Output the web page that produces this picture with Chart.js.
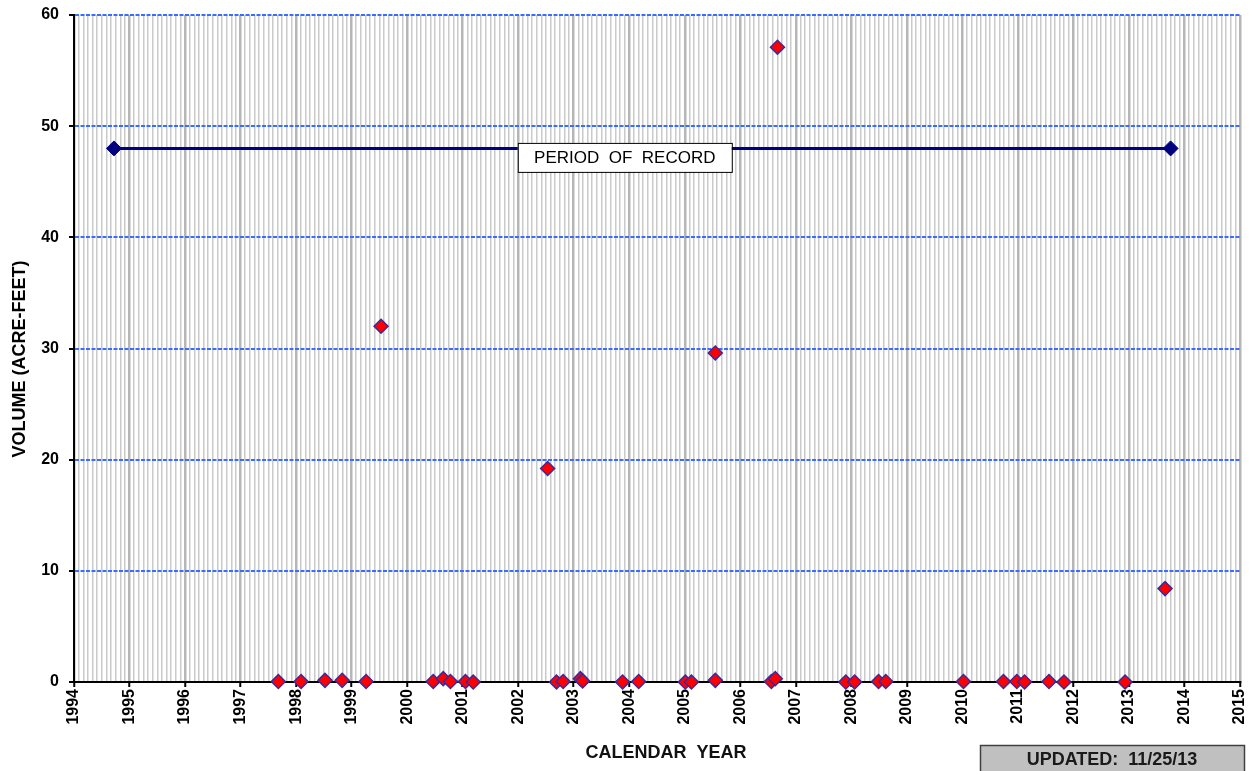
<!DOCTYPE html>
<html>
<head>
<meta charset="utf-8">
<script src="https://cdn.jsdelivr.net/npm/chart.js@4.4.1/dist/chart.umd.min.js"></script>
<style>
  html, body { margin: 0; padding: 0; background: #fff; }
  #wrap { width: 1255px; height: 771px; }
</style>
</head>
<body>
<div id="wrap"><canvas id="volChart"></canvas></div>
<script>
// sample dates (decimal years) and measured volumes
const sampleYears = [1997.68, 1998.09, 1998.52, 1998.83, 1999.26, 1999.53, 2000.47, 2000.65,
  2000.78, 2001.05, 2001.19, 2002.53, 2002.69, 2002.81, 2003.12, 2003.16, 2003.88, 2004.17,
  2005.01, 2005.12, 2005.55, 2005.55, 2006.56, 2006.63, 2006.67, 2007.90, 2008.06, 2008.49,
  2008.62, 2010.02, 2010.74, 2010.98, 2011.12, 2011.56, 2011.83, 2012.93, 2013.65];
const volumes = [0.05, 0.05, 0.15, 0.15, 0.05, 32.0, 0.05, 0.3, 0.05, 0.05, 0.0, 19.2,
  0.0, 0.05, 0.3, 0.1, 0.0, 0.05, 0.0, 0.0, 29.6, 0.15, 0.05, 0.3, 57.1, 0.0, 0.0, 0.05,
  0.05, 0.05, 0.05, 0.05, 0.0, 0.05, 0.0, 0.0, 8.4];

const recordYears = [1994.72, 2013.75];
const recordVolumes = [48, 48];

const yearLabels = ["1994", "1995", "1996", "1997", "1998", "1999", "2000", "2001", "2002",
  "2003", "2004", "2005", "2006", "2007", "2008", "2009", "2010", "2011", "2012", "2013",
  "2014", "2015"];
const volumeTicks = [0, 10, 20, 30, 40, 50, 60];

const FONT = "'Liberation Sans', Arial, sans-serif";
const isYear = (v) => Math.abs(v - Math.round(v)) < 1e-6;

const boxes = {
  id: "boxes",
  afterDraw(chart) {
    const ctx = chart.ctx;
    const xs = chart.scales.x, ys = chart.scales.y;

    // period of record label
    const cx = xs.getPixelForValue(2003.92);
    const cy = ys.getPixelForValue(48) + 9;
    ctx.save();
    ctx.fillStyle = "#fff";
    ctx.strokeStyle = "#000";
    ctx.lineWidth = 1;
    ctx.fillRect(cx - 107, cy - 14.5, 214, 29);
    ctx.strokeRect(cx - 107 + 0.5, cy - 14.5 + 0.5, 214, 29);
    ctx.fillStyle = "#000";
    ctx.font = "17px " + FONT;
    ctx.textAlign = "center";
    ctx.textBaseline = "middle";
    ctx.fillText("PERIOD  OF  RECORD", cx, cy + 1);

    // axis titles, both sit a little off centre in the original
    ctx.fillStyle = "#111";
    ctx.font = "bold 18px " + FONT;
    ctx.fillText("CALENDAR  YEAR", 666, 753);
    ctx.save();
    ctx.translate(20, 359);
    ctx.rotate(-Math.PI / 2);
    ctx.fillStyle = "#000";
    ctx.fillText("VOLUME (ACRE-FEET)", 0, 0);
    ctx.restore();

    // updated stamp
    ctx.fillStyle = "#c0c0c0";
    ctx.fillRect(980, 745, 265, 30);
    ctx.strokeStyle = "#404040";
    ctx.lineWidth = 1.5;
    ctx.strokeRect(980.5, 745.5, 264, 30);
    ctx.fillStyle = "#1a1a1a";
    ctx.fillText("UPDATED:  11/25/13", 1112, 760);
    ctx.restore();
  }
};

new Chart(document.getElementById("volChart"), {
  type: "scatter",
  data: {
    datasets: [
      {
        label: "Period of record",
        data: recordYears.map((x, i) => ({ x, y: recordVolumes[i] })),
        showLine: true,
        borderColor: "#000080",
        borderWidth: 3,
        backgroundColor: "#000080",
        pointStyle: "rectRot",
        pointRadius: 7.5,
        pointBorderWidth: 1,
      },
      {
        label: "Volume",
        data: sampleYears.map((x, i) => ({ x, y: volumes[i] })),
        backgroundColor: "#ff0000",
        borderColor: "#3a2aa0",
        borderWidth: 1.5,
        pointStyle: "rectRot",
        pointRadius: 7,
        clip: false,
      },
    ],
  },
  options: {
    responsive: true,
    maintainAspectRatio: false,
    animation: false,
    layout: { padding: { top: 15, right: 15, left: 0, bottom: 0 } },
    scales: {
      x: {
        type: "linear",
        min: 1994,
        max: 2015,
        afterBuildTicks: (scale) => {
          const t = [];
          for (let i = 0; i <= 21 * 12; i++) t.push({ value: 1994 + i / 12 });
          scale.ticks = t;
        },
        afterFit: (scale) => {
          scale.height = 89;
          scale.paddingLeft = scale.paddingRight = 0;
        },
        grid: {
          color: (c) => (c.tick && isYear(c.tick.value) ? "#b6b6b6" : "#cacaca"),
          lineWidth: (c) => (c.tick && isYear(c.tick.value) ? 2.5 : 1.5),
          tickColor: (c) => (c.tick && isYear(c.tick.value) ? "#000" : "rgba(0,0,0,0)"),
          tickLength: 5,
          tickWidth: 2,
        },
        border: { color: "#000", width: 2 },
        ticks: {
          autoSkip: false,
          minRotation: 90,
          maxRotation: 90,
          padding: 2,
          color: "#000",
          font: { family: FONT, size: 16, weight: "bold" },
          callback: (v) => (isYear(v) ? yearLabels[Math.round(v) - 1994] : ""),
        },
      },
      y: {
        min: 0,
        max: 60,
        afterBuildTicks: (scale) => { scale.ticks = volumeTicks.map((v) => ({ value: v })); },
        afterFit: (scale) => {
          scale.width = 74;
          scale.paddingTop = scale.paddingBottom = 0;
        },
        grid: {
          color: (c) => (c.tick && c.tick.value === 0 ? "rgba(0,0,0,0)" : "#3a6cff"),
          lineWidth: 2,
          tickColor: "#000",
          tickLength: 5,
          tickWidth: 2,
        },
        border: { color: "#000", width: 2, dash: [4, 1.5] },
        ticks: {
          padding: 10,
          color: "#000",
          font: { family: FONT, size: 16, weight: "bold" },
        },
      },
    },
    plugins: {
      legend: { display: false },
      tooltip: { enabled: false },
    },
  },
  plugins: [boxes],
});
</script>
</body>
</html>
